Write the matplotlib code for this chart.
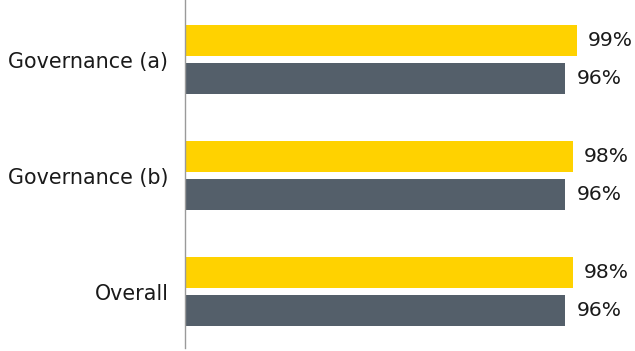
import matplotlib
matplotlib.use("Agg")
import matplotlib.pyplot as plt
import numpy as np

plt.rcParams['font.family'] = ['DejaVu Sans']

categories = ['Governance (a)', 'Governance (b)', 'Overall']
series_yellow = [99, 98, 98]
series_grey = [96, 96, 96]

yellow = '#FFD200'
grey = '#545F6A'

fig = plt.figure(figsize=(6.35, 3.51), dpi=100)
ax = fig.add_axes([185 / 635, 1 - 348 / 351, 1 - 185 / 635, 348 / 351])

# groups are drawn top to bottom
pos = np.arange(len(categories))[::-1].astype(float)
h = 0.267
off = 0.166

b1 = ax.barh(pos + off, series_yellow, height=h, color=yellow)
b2 = ax.barh(pos - off, series_grey, height=h, color=grey)

for bars, vals in ((b1, series_yellow), (b2, series_grey)):
    for bar, v in zip(bars, vals):
        ax.annotate(f'{v}%', (bar.get_width(), bar.get_y() + bar.get_height() / 2),
                    xytext=(8, 0), textcoords='offset points',
                    ha='left', va='center', fontsize=14.6, color='#1a1a1a')

ax.set_xlim(0, 450 / 3.96)
ax.set_ylim(2 - 288.5 / 116, 2 + 59.5 / 116)
ax.set_yticks(pos)
ax.set_yticklabels(categories, fontsize=14.9, color='#1a1a1a')
ax.set_xticks([])
ax.tick_params(axis='y', length=0, pad=12)

for s in ('top', 'right', 'bottom'):
    ax.spines[s].set_visible(False)
ax.spines['left'].set_color('#9a9a9a')
ax.spines['left'].set_linewidth(1.0)

fig.savefig('out.png', dpi=100)
